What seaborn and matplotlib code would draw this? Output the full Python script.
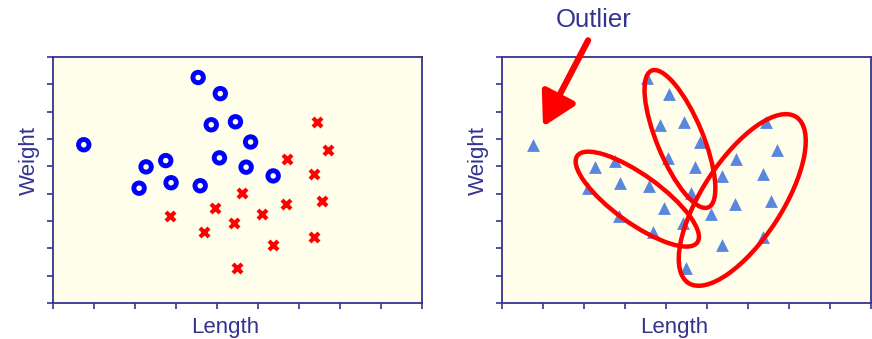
import matplotlib
matplotlib.use("Agg")
import matplotlib.pyplot as plt
import seaborn as sns
from matplotlib.patches import Ellipse
from matplotlib.transforms import Affine2D

# the two groups
circle_x = [3.54, 4.08, 3.86, 4.45, 4.82, 4.06, 4.71, 0.75, 2.27, 2.75, 2.10, 2.88, 3.59, 5.37]
circle_y = [8.25, 7.66, 6.52, 6.63, 5.89, 5.31, 4.97, 5.79, 4.98, 5.21, 4.20, 4.40, 4.29, 4.65]
cross_x = [6.44, 6.71, 5.71, 6.36, 4.61, 6.57, 5.69, 3.96, 5.09, 2.86, 4.42, 3.69, 5.37, 6.37, 4.49]
cross_y = [6.64, 5.59, 5.26, 4.71, 4.04, 3.74, 3.63, 3.49, 3.24, 3.20, 2.92, 2.59, 2.12, 2.43, 1.27]

# right panel: same points, unlabelled
tri_x = circle_x + cross_x
tri_y = circle_y + cross_y

# cluster ellipses: centre (data), width/height in pixels, angle in degrees
ell_cx = [4.34, 3.30, 5.86]
ell_cy = [6.00, 3.80, 3.77]
ell_w = [148, 148, 198]
ell_h = [46, 48, 80]
ell_ang = [112.5, -35.8, 57]

navy = "#34348f"
sns.set_style("ticks")
plt.rcParams["font.family"] = ["Liberation Sans", "DejaVu Sans"]

fig = plt.figure(figsize=(8.72, 3.39), dpi=100)
ax1 = fig.add_axes([53 / 872, 36 / 339, 369 / 872, 246 / 339])
ax2 = fig.add_axes([502 / 872, 36 / 339, 369 / 872, 246 / 339])

for ax in (ax1, ax2):
    ax.set_facecolor("#fefeea")
    ax.set_xlim(0, 9)
    ax.set_ylim(0, 9)
    ax.set_xticks(range(10))
    ax.set_yticks(range(10))
    ax.set_xticklabels([])
    ax.set_yticklabels([])
    ax.tick_params(direction="out", length=4.5, width=1.2, color=navy)
    for sp in ax.spines.values():
        sp.set_color(navy)
        sp.set_linewidth(1.3)
    ax.set_xlabel("Length", fontsize=16, color=navy)
    ax.set_ylabel("Weight", fontsize=16, color=navy)
    ax.xaxis.set_label_coords(0.466, -0.098)
    ax.xaxis.label.set_va("center")
    ax.yaxis.set_label_coords(-0.065, 0.581)
    ax.yaxis.label.set_va("center")

sns.scatterplot(x=circle_x, y=circle_y, ax=ax1, marker="o", s=57,
                facecolor="none", edgecolor="#0000ff", linewidth=3.5)
sns.scatterplot(x=cross_x, y=cross_y, ax=ax1, marker="x", s=42,
                color="#ff0000", linewidth=3)
for c in ax1.collections[:1]:
    c.set_facecolor("none")

sns.scatterplot(x=tri_x, y=tri_y, ax=ax2, marker="^", s=85,
                color="#5b86de", linewidth=0)

# ellipses drawn in pixel units, placed in data space
ppx = 369 / 9
ppy = 246 / 9
for cx, cy, w, h, a in zip(ell_cx, ell_cy, ell_w, ell_h, ell_ang):
    tr = Affine2D().scale(1 / ppx, 1 / ppy).translate(cx, cy) + ax2.transData
    ax2.add_patch(Ellipse((0, 0), w, h, angle=a, fill=False,
                          edgecolor="#ff0000", linewidth=3.2, transform=tr))

ax2.annotate("", xy=(1.0, 6.45), xytext=(2.10, 9.61), annotation_clip=False,
             arrowprops=dict(arrowstyle="-|>,head_length=0.8,head_width=0.45",
                             color="#ff0000", lw=4.5, mutation_scale=25,
                             shrinkA=0, shrinkB=0))
fig.text(594 / 872, 1 - 20 / 339, "Outlier", fontsize=18.5, color=navy,
         ha="center", va="center")

fig.savefig("out.png", dpi=100)
